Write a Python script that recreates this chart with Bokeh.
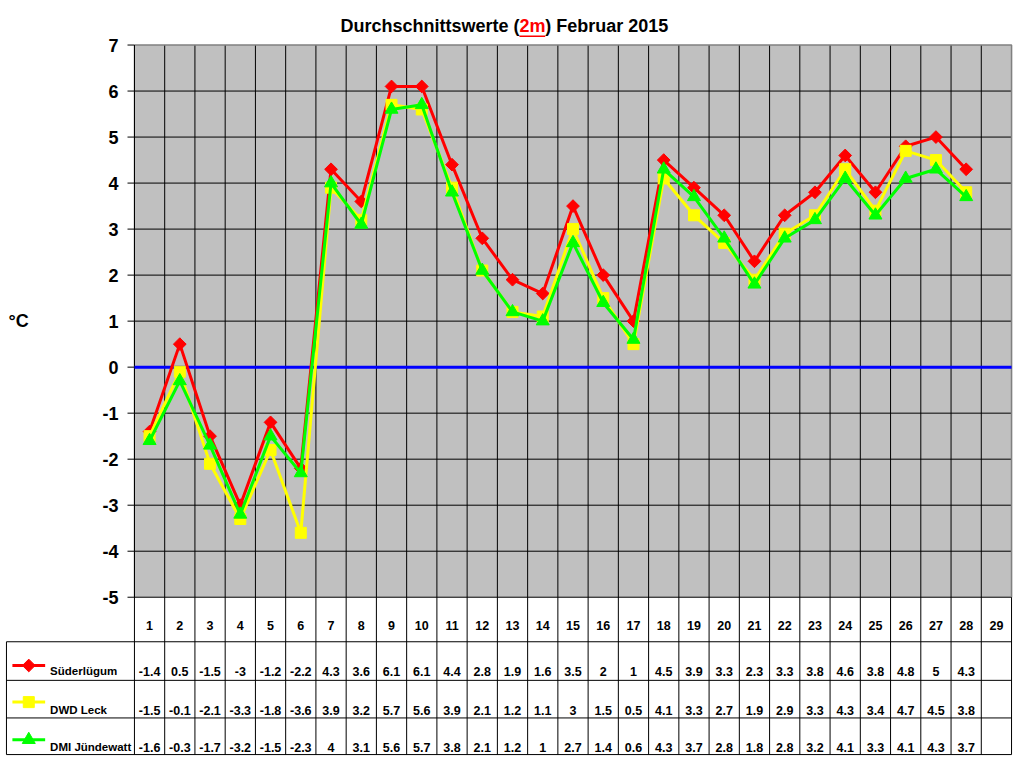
from math import pi

from bokeh.plotting import figure
from bokeh.models import Range1d
from bokeh.core.properties import value
from bokeh.embed import file_html
from bokeh.resources import INLINE

## ----- DATA ----- ##
days = list(range(1, 29))
all_days = list(range(1, 30))

suederluegum = [-1.4, 0.5, -1.5, -3, -1.2, -2.2, 4.3, 3.6, 6.1, 6.1, 4.4, 2.8, 1.9, 1.6,
                3.5, 2, 1, 4.5, 3.9, 3.3, 2.3, 3.3, 3.8, 4.6, 3.8, 4.8, 5, 4.3]
dwd_leck = [-1.5, -0.1, -2.1, -3.3, -1.8, -3.6, 3.9, 3.2, 5.7, 5.6, 3.9, 2.1, 1.2, 1.1,
            3, 1.5, 0.5, 4.1, 3.3, 2.7, 1.9, 2.9, 3.3, 4.3, 3.4, 4.7, 4.5, 3.8]
dmi_juendewatt = [-1.6, -0.3, -1.7, -3.2, -1.5, -2.3, 4, 3.1, 5.6, 5.7, 3.8, 2.1, 1.2, 1,
                  2.7, 1.4, 0.6, 4.3, 3.7, 2.8, 1.8, 2.8, 3.2, 4.1, 3.3, 4.1, 4.3, 3.7]

series_names = ["Süderlügum", "DWD Leck", "DMI Jündewatt"]
y_ticks = list(range(-5, 8))
y_tick_labels = [str(v) for v in y_ticks]

## ----- STYLE ----- ##
FONT = "Liberation Sans"
RED = "#ff0000"
YELLOW = "#ffff00"
GREEN = "#00ff00"
BLUE = "#0000ff"
PLOT_BG = "#c0c0c0"
BORDER = "#808080"

# geometry in pixels of a 1024x768 page, the frame is scaled onto 1016x760
LEFT, RIGHT = 135, 1019
TOP, BOTTOM = 45, 603
COL_W = (RIGHT - LEFT) / 29
PX_Y = (BOTTOM - TOP) / 12          # pixels per degree


def px(page_x):
    """page x pixel -> day coordinate"""
    return 0.5 + (page_x - LEFT) / COL_W


def py(page_y):
    """page y pixel -> degree coordinate"""
    return 7 + (TOP - page_y) / PX_Y


bounds = [0.5 + i for i in range(30)]

## ----- FIGURE (plot + table share one frame) ----- ##
p = figure(width=1016, height=760, x_range=Range1d(px(0), px(1024)),
           y_range=Range1d(py(768), py(0)), x_axis_type=None, y_axis_type=None,
           output_backend="svg", toolbar_location=None,
           min_border_left=0, min_border_right=0, min_border_top=0, min_border_bottom=0)
p.outline_line_color = None

# plot area
p.quad(left=0.5, right=29.5, bottom=-5, top=7, fill_color=PLOT_BG, line_color=None)
p.segment(x0=[0.5] * 12, y0=y_ticks[:-1], x1=[29.5] * 12, y1=y_ticks[:-1],
          line_color="black", line_width=1)
p.segment(x0=bounds, y0=[py(762)] * 30, x1=bounds, y1=[7] * 30,
          line_color="black", line_width=1)
p.line(x=[0.5, 29.5, 29.5], y=[7, 7, -5], line_color=BORDER, line_width=1.5)

# y axis: line, ticks, labels
p.segment(x0=[0.5], y0=[-5], x1=[0.5], y1=[7], line_color="black", line_width=1)
p.segment(x0=[px(128)] * 13, y0=y_ticks, x1=[0.5] * 13, y1=y_ticks,
          line_color="black", line_width=1)
akw = dict(text_font=value(FONT), text_font_style="bold", text_font_size="18px",
           text_color="black", text_baseline="middle")
p.text(x=[px(119)] * 13, y=y_ticks, text=y_tick_labels, text_align="right", **akw)
p.text(x=[px(8)], y=[py(324)], text=["°C"], text_align="left", **akw)

# zero line
p.segment(x0=[0.5], y0=[0], x1=[29.5], y1=[0], line_color=BLUE, line_width=3)

# diamond = square turned by 45 degrees
markers = [("square", 9, pi / 4), ("square", 11, 0), ("triangle", 13, 0)]
colours = [RED, YELLOW, GREEN]
for vals, col, (mk, sz, ang) in zip([suederluegum, dwd_leck, dmi_juendewatt], colours, markers):
    p.line(days, vals, line_color=col, line_width=3)
    p.scatter(days, vals, marker=mk, size=sz, angle=ang, fill_color=col, line_color=col)

# title, "2m" in red and underlined
tkw = dict(text_font=value(FONT), text_font_style="bold", text_font_size="18px",
           text_baseline="middle")
p.text(x=[px(523)], y=[py(25.5)], text=["Durchschnittswerte ("], text_align="right",
       text_color="black", **tkw)
p.text(x=[px(523)], y=[py(25.5)], text=["2m"], text_align="left", text_color=RED, **tkw)
p.text(x=[px(549)], y=[py(25.5)], text=[") Februar 2015"], text_align="left",
       text_color="black", **tkw)
p.segment(x0=[px(523)], y0=[py(36)], x1=[px(549)], y1=[py(36)], line_color=RED, line_width=1.5)

## ----- DATA TABLE ----- ##
row_lines = [py(y) for y in (648, 687, 725, 762)]
p.segment(x0=[px(6)] * 4, y0=row_lines, x1=[29.5] * 4, y1=row_lines,
          line_color="black", line_width=1)
p.segment(x0=[px(6)], y0=[row_lines[0]], x1=[px(6)], y1=[row_lines[-1]],
          line_color="black", line_width=1)

fkw = dict(text_font=value(FONT), text_font_style="bold", text_font_size="12.5px",
           text_baseline="middle", text_color="black")
p.text(x=all_days, y=[py(632)] * 29, text=[str(d) for d in all_days], text_align="center", **fkw)

text_mid = [py(y) for y in (678, 717, 754.5)]
legend_y = [py(y) for y in (672, 709, 747)]
for vals, name, col, (mk, sz, ang), ym, yl in zip([suederluegum, dwd_leck, dmi_juendewatt],
                                                  series_names, colours, markers, text_mid, legend_y):
    p.line(x=[px(12), px(45)], y=[yl, yl], line_color=col, line_width=3)
    p.scatter(x=[px(28.5)], y=[yl], marker=mk, size=sz, angle=ang, fill_color=col, line_color=col)
    p.text(x=[px(50)], y=[ym], text=[name], text_align="left",
           **dict(fkw, text_font_size="11.5px"))
    p.text(x=days, y=[ym] * len(days), text=[f"{v:g}" for v in vals], text_align="center", **fkw)

open("out.html", "w").write(file_html(p, INLINE))
